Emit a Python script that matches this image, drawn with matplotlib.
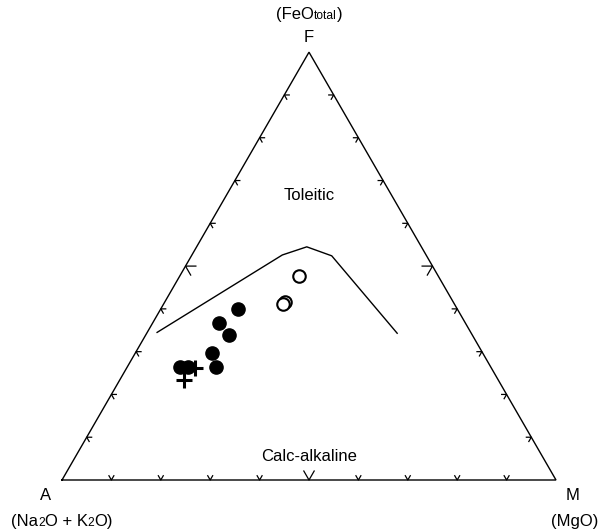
import numpy as np
import matplotlib.pyplot as plt
from matplotlib.offsetbox import TextArea, HPacker, AnnotationBbox

plt.rcParams['font.family'] = ['Liberation Sans', 'DejaVu Sans']

# AFM ternary data, fractions (A = Na2O+K2O, F = FeOt, M = MgO)
# Tholeiitic / calc-alkaline boundary
bnd_A = [0.635, 0.291, 0.232, 0.192, 0.150]
bnd_F = [0.345, 0.526, 0.545, 0.524, 0.343]
bnd_M = [0.020, 0.183, 0.223, 0.284, 0.507]

# filled circles
fill_A = [0.444, 0.499, 0.492, 0.548, 0.557, 0.629, 0.613]
fill_F = [0.400, 0.367, 0.339, 0.297, 0.263, 0.264, 0.264]
fill_M = [0.156, 0.134, 0.169, 0.155, 0.180, 0.107, 0.123]

# open circles
open_A = [0.281, 0.340, 0.348]
open_F = [0.477, 0.417, 0.411]
open_M = [0.242, 0.243, 0.241]

# crosses
cross_A = [0.600, 0.636]
cross_F = [0.261, 0.234]
cross_M = [0.139, 0.130]

h = np.sqrt(3) / 2


def tern(F, M):
    F = np.asarray(F, float)
    M = np.asarray(M, float)
    return M + F / 2, F * h


def sub_label(ax, parts, x, y, fs=12):
    # parts: list of (text, is_small); small pieces sit on the baseline
    boxes = []
    for s, small in parts:
        boxes.append(TextArea(s, textprops=dict(fontsize=fs * 0.72 if small else fs)))
    pk = HPacker(children=boxes, align='baseline', pad=0, sep=0)
    ab = AnnotationBbox(pk, (x, y), frameon=False, box_alignment=(0.5, 0.5), pad=0)
    ax.add_artist(ab)


fig = plt.figure(figsize=(5.98, 5.31), dpi=100)
ax = fig.add_axes([0, 0, 1, 1])
ax.set_xlim(-62 / 494, 536 / 494)
ax.set_ylim(-51 / 494, 480 / 494)
ax.axis('off')

# triangle
vx = [0, 1, 0.5, 0]
vy = [0, 0, h, 0]
ax.plot(vx, vy, color='black', lw=1.0, solid_joinstyle='miter')

# chevron ticks every 10 %, larger at 50 %
sides = [((0, 0), (1, 0), 90), ((0, 0), (0.5, h), -30), ((1, 0), (0.5, h), 210)]
for p0, p1, nang in sides:
    for k in range(1, 10):
        t = k / 10
        px = p0[0] + t * (p1[0] - p0[0])
        py = p0[1] + t * (p1[1] - p0[1])
        L = 0.021 if k == 5 else 0.010
        a1 = np.radians(nang - 30)
        a2 = np.radians(nang + 30)
        ax.plot([px + L * np.cos(a1), px, px + L * np.cos(a2)],
                [py + L * np.sin(a1), py, py + L * np.sin(a2)],
                color='black', lw=0.9)

bx, by = tern(bnd_F, bnd_M)
ax.plot(bx, by, color='black', lw=1.0)

x, y = tern(fill_F, fill_M)
ax.plot(x, y, 'o', ms=9.5, color='black', ls='none')
x, y = tern(open_F, open_M)
ax.plot(x, y, 'o', ms=9, mfc='white', mec='black', mew=1.5, ls='none')
x, y = tern(cross_F, cross_M)
ax.plot(x, y, '+', ms=11, color='black', mew=2.2, ls='none')

fs = 12
ax.text(0.5, 0.575, 'Toleitic', ha='center', va='center', fontsize=fs)
ax.text(0.5, 0.047, 'Calc-alkaline', ha='center', va='center', fontsize=fs)
ax.text(0.5, 0.895, 'F', ha='center', va='center', fontsize=fs)
sub_label(ax, [('(FeO', False), ('total', True), (')', False)], 0.5, 0.943)
ax.text(-0.034, -0.032, 'A', ha='center', va='center', fontsize=fs)
sub_label(ax, [('(Na', False), ('2', True), ('O + K', False), ('2', True), ('O)', False)],
          0.0, -0.083)
ax.text(1.034, -0.032, 'M', ha='center', va='center', fontsize=fs)
ax.text(1.038, -0.083, '(MgO)', ha='center', va='center', fontsize=fs)

fig.savefig('out.png', dpi=100)
